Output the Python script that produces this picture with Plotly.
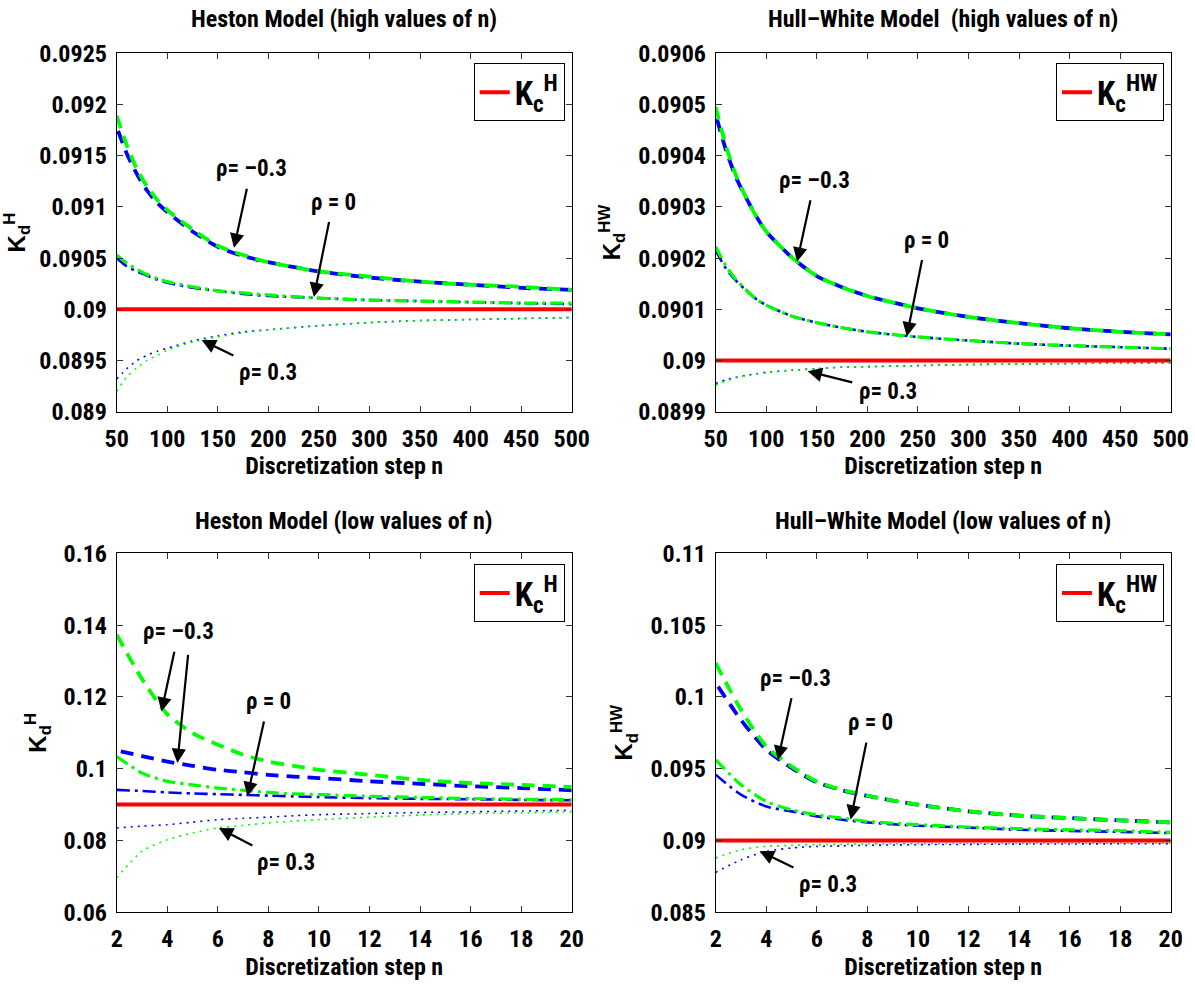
import plotly.graph_objects as go

NARROW = "Liberation Sans Narrow, Roboto Condensed, DejaVu Sans Condensed, Arial Narrow, sans-serif"
WIDE = "Liberation Sans, Arial, Helvetica, sans-serif"

# ---------------- data ----------------
K_c = 0.09

n_high = [50, 60, 70, 80, 90, 100, 125, 150, 175, 200, 250, 300, 350, 400, 450, 500]
n_low = [2, 3, 4, 5, 6, 7, 8, 9, 10, 12, 14, 16, 18, 20]

# Heston, high n
h_hi_m03_blue = [0.09178, 0.09152, 0.09132, 0.09116, 0.09104, 0.09095, 0.09076, 0.09061, 0.09052, 0.09046, 0.09037, 0.09031, 0.09027, 0.09024, 0.09021, 0.09019]
h_hi_m03_green = [0.09189, 0.09160, 0.09137, 0.09120, 0.09107, 0.09097, 0.09078, 0.09062, 0.09053, 0.09046, 0.09037, 0.09032, 0.09027, 0.09024, 0.09022, 0.09019]
h_hi_0_blue = [0.09050, 0.09042, 0.09037, 0.09033, 0.09029, 0.09026, 0.09021, 0.09018, 0.09015, 0.09013, 0.09011, 0.09009, 0.09008, 0.09007, 0.09006, 0.09005]
h_hi_0_green = [0.09053, 0.09045, 0.09039, 0.09034, 0.09030, 0.09027, 0.09022, 0.09018, 0.09016, 0.09014, 0.09011, 0.09009, 0.09008, 0.09007, 0.09006, 0.09006]
h_hi_p03_blue = [0.08932, 0.08942, 0.08950, 0.08955, 0.08959, 0.08962, 0.08969, 0.08974, 0.08978, 0.08980, 0.08984, 0.08987, 0.08989, 0.08990, 0.08991, 0.08992]
h_hi_p03_green = [0.08920, 0.08934, 0.08943, 0.08950, 0.08955, 0.08960, 0.08968, 0.08973, 0.08977, 0.08980, 0.08984, 0.08987, 0.08989, 0.08990, 0.08991, 0.08992]

# Hull-White, high n
hw_hi_m03_blue = [0.090480, 0.090412, 0.090358, 0.090318, 0.090282, 0.090252, 0.090202, 0.090165, 0.090143, 0.090126, 0.090102, 0.090085, 0.090073, 0.090063, 0.090056, 0.090051]
hw_hi_m03_green = [0.090495, 0.090420, 0.090362, 0.090318, 0.090282, 0.090252, 0.090202, 0.090165, 0.090143, 0.090126, 0.090102, 0.090085, 0.090073, 0.090063, 0.090056, 0.090051]
hw_hi_0_blue = [0.090215, 0.090180, 0.090156, 0.090137, 0.090120, 0.090108, 0.090087, 0.090074, 0.090064, 0.090056, 0.090046, 0.090039, 0.090033, 0.090029, 0.090026, 0.090023]
hw_hi_0_green = [0.090222, 0.090185, 0.090158, 0.090138, 0.090120, 0.090108, 0.090087, 0.090074, 0.090064, 0.090056, 0.090046, 0.090039, 0.090033, 0.090029, 0.090026, 0.090023]
hw_hi_p03_blue = [0.089955, 0.089962, 0.089967, 0.089971, 0.089974, 0.089977, 0.089981, 0.089984, 0.089987, 0.089988, 0.089990, 0.089992, 0.089993, 0.089994, 0.089995, 0.089995]
hw_hi_p03_green = [0.089952, 0.089960, 0.089966, 0.089970, 0.089973, 0.089976, 0.089981, 0.089984, 0.089987, 0.089988, 0.089990, 0.089992, 0.089993, 0.089994, 0.089995, 0.089995]

# Heston, low n
h_lo_m03_blue = [0.1051, 0.1035, 0.1020, 0.1008, 0.0997, 0.0990, 0.0983, 0.0978, 0.0974, 0.0965, 0.0958, 0.0951, 0.0946, 0.0940]
h_lo_m03_green = [0.1373, 0.1250, 0.1152, 0.1099, 0.1067, 0.1039, 0.1020, 0.1008, 0.0997, 0.0983, 0.0969, 0.0960, 0.0955, 0.0949]
h_lo_0_blue = [0.0941, 0.0938, 0.0934, 0.0931, 0.0929, 0.0927, 0.0925, 0.0923, 0.0921, 0.0918, 0.0916, 0.0915, 0.0913, 0.0912]
h_lo_0_green = [0.1034, 0.0988, 0.0965, 0.0955, 0.0946, 0.0940, 0.0934, 0.0930, 0.0928, 0.0923, 0.0920, 0.0917, 0.0915, 0.0914]
h_lo_p03_blue = [0.0835, 0.0840, 0.0844, 0.0851, 0.0858, 0.0862, 0.0865, 0.0869, 0.0872, 0.0875, 0.0878, 0.0880, 0.0882, 0.0884]
h_lo_p03_green = [0.0696, 0.0770, 0.0802, 0.0821, 0.0835, 0.0842, 0.0849, 0.0854, 0.0858, 0.0865, 0.0871, 0.0875, 0.0877, 0.0880]

# Hull-White, low n
hw_lo_m03_blue = [0.10096, 0.09840, 0.09632, 0.09505, 0.09405, 0.09350, 0.09310, 0.09278, 0.09249, 0.09203, 0.09173, 0.09156, 0.09140, 0.09126]
hw_lo_m03_green = [0.10235, 0.09910, 0.09655, 0.09516, 0.09411, 0.09353, 0.09312, 0.09278, 0.09249, 0.09203, 0.09173, 0.09156, 0.09140, 0.09126]
hw_lo_0_blue = [0.09458, 0.09319, 0.09237, 0.09203, 0.09168, 0.09145, 0.09126, 0.09113, 0.09103, 0.09090, 0.09075, 0.09067, 0.09060, 0.09052]
hw_lo_0_green = [0.09562, 0.09388, 0.09272, 0.09214, 0.09179, 0.09156, 0.09133, 0.09120, 0.09110, 0.09094, 0.09082, 0.09075, 0.09068, 0.09057]
hw_lo_p03_blue = [0.08778, 0.08866, 0.08924, 0.08948, 0.08959, 0.08963, 0.08966, 0.08969, 0.08971, 0.08973, 0.08975, 0.08976, 0.08977, 0.08978]
hw_lo_p03_green = [0.08878, 0.08936, 0.08959, 0.08966, 0.08971, 0.08974, 0.08976, 0.08977, 0.08978, 0.08979, 0.08980, 0.08981, 0.08982, 0.08982]

# ticks
x_ticks_high = [50, 100, 150, 200, 250, 300, 350, 400, 450, 500]
x_ticks_low = [2, 4, 6, 8, 10, 12, 14, 16, 18, 20]
y_ticks_tl = [0.089, 0.0895, 0.09, 0.0905, 0.091, 0.0915, 0.092, 0.0925]
y_text_tl = ["0.089", "0.0895", "0.09", "0.0905", "0.091", "0.0915", "0.092", "0.0925"]
y_ticks_tr = [0.0899, 0.09, 0.0901, 0.0902, 0.0903, 0.0904, 0.0905, 0.0906]
y_text_tr = ["0.0899", "0.09", "0.0901", "0.0902", "0.0903", "0.0904", "0.0905", "0.0906"]
y_ticks_bl = [0.06, 0.08, 0.1, 0.12, 0.14, 0.16]
y_text_bl = ["0.06", "0.08", "0.1", "0.12", "0.14", "0.16"]
y_ticks_br = [0.085, 0.09, 0.095, 0.1, 0.105, 0.11]
y_text_br = ["0.085", "0.09", "0.095", "0.1", "0.105", "0.11"]

titles = ["Heston Model (high values of n)", "Hull–White Model  (high values of n)",
          "Heston Model (low values of n)", "Hull–White Model (low values of n)"]
ylabels = ["K<sub>d</sub><sup>H</sup>", "K<sub>d</sub><sup>HW</sup>",
           "K<sub>d</sub><sup>H</sup>", "K<sub>d</sub><sup>HW</sup>"]
legend_names = ["K<sub>c</sub><sup>H</sup>", "K<sub>c</sub><sup>HW</sup>",
                "K<sub>c</sub><sup>H</sup>", "K<sub>c</sub><sup>HW</sup>"]
xlabel = "Discretization step n"

# callouts: (text, text_x, text_y, arrow_head_x, arrow_head_y)
callouts = [
    [("ρ= –0.3", 183, 0.091372, 166, 0.0906), ("ρ = 0", 264, 0.091047, 245, 0.09012),
     ("ρ= 0.3", 200, 0.08938, 134, 0.0897)],
    [("ρ= –0.3", 148, 0.090352, 130.5, 0.090193), ("ρ = 0", 258, 0.090235, 239, 0.090047),
     ("ρ= 0.3", 220, 0.08994, 141, 0.089979)],
    [("ρ= –0.3", 4.45, 0.1381, 3.77, 0.1159), ("ρ = 0", 8.0, 0.1187, 7.17, 0.0923),
     ("ρ= 0.3", 8.68, 0.0738, 6.04, 0.0835)],
    [("ρ= –0.3", 5.17, 0.1013, 4.46, 0.0956), ("ρ = 0", 8.12, 0.0982, 7.34, 0.09146),
     ("ρ= 0.3", 6.46, 0.08694, 3.74, 0.08926)],
]
# extra arrow without its own label (tail_x, tail_y, head_x, head_y)
extra_arrows = [[], [], [(4.83, 0.1321, 4.40, 0.1016)], []]

panels = [
    dict(n=n_high, series=[h_hi_m03_blue, h_hi_m03_green, h_hi_0_blue, h_hi_0_green, h_hi_p03_blue, h_hi_p03_green],
         xr=[50, 500], yr=[0.089, 0.0925], xt=x_ticks_high, yt=y_ticks_tl, ytt=y_text_tl),
    dict(n=n_high, series=[hw_hi_m03_blue, hw_hi_m03_green, hw_hi_0_blue, hw_hi_0_green, hw_hi_p03_blue, hw_hi_p03_green],
         xr=[50, 500], yr=[0.0899, 0.0906], xt=x_ticks_high, yt=y_ticks_tr, ytt=y_text_tr),
    dict(n=n_low, series=[h_lo_m03_blue, h_lo_m03_green, h_lo_0_blue, h_lo_0_green, h_lo_p03_blue, h_lo_p03_green],
         xr=[2, 20], yr=[0.06, 0.16], xt=x_ticks_low, yt=y_ticks_bl, ytt=y_text_bl),
    dict(n=n_low, series=[hw_lo_m03_blue, hw_lo_m03_green, hw_lo_0_blue, hw_lo_0_green, hw_lo_p03_blue, hw_lo_p03_green],
         xr=[2, 20], yr=[0.085, 0.11], xt=x_ticks_low, yt=y_ticks_br, ytt=y_text_br),
]

# ---------------- styles ----------------
W, H = 1195, 987
BLUE, GREEN, RED = "#0000ff", "#00ff00", "#ff0000"
styles = [
    dict(color=BLUE, dash="0px,4px,13px,4px", width=3.8),
    dict(color=GREEN, dash="13px,8px", width=3.8),
    dict(color=BLUE, dash="13px,5px,3px,5px", width=2.6),
    dict(color=GREEN, dash="13px,5px,3px,5px", width=3.2),
    dict(color=BLUE, dash="2px,5px", width=1.6),
    dict(color=GREEN, dash="2px,5px", width=1.6),
]

# pixel boxes of the four plot areas (left, right, top, bottom)
boxes = [(116.7, 571.7, 53.3, 411.7), (715.7, 1170.7, 53.3, 411.7),
         (116.7, 571.7, 553.3, 912.3), (715.7, 1170.7, 553.3, 912.3)]
title_y = [19.5, 19.5, 520.7, 520.7]
legend_right = [564.7, 1164.0, 564.7, 1164.0]
legend_top = [63.3, 63.3, 564.0, 564.0]

TXT = dict(family=NARROW, size=24, color="black", weight="bold")

fig = go.Figure()
annotations = []
layout = {}

for i, p in enumerate(panels):
    k = "" if i == 0 else str(i + 1)
    xa, ya = "x" + k, "y" + k
    leg = "legend" + k
    for s, st in zip(p["series"], styles):
        fig.add_trace(go.Scatter(x=p["n"], y=s, mode="lines", xaxis=xa, yaxis=ya,
                                 line=dict(color=st["color"], dash=st["dash"], width=st["width"],
                                           shape="spline", smoothing=0.7),
                                 showlegend=False, hoverinfo="skip"))
    fig.add_trace(go.Scatter(x=p["n"], y=[K_c] * len(p["n"]), mode="lines", xaxis=xa, yaxis=ya,
                             line=dict(color=RED, width=4), name=legend_names[i],
                             legend=leg, showlegend=True))

    l, r, t, b = boxes[i]
    axcommon = dict(showline=True, linecolor="black", linewidth=1, mirror="ticks",
                    ticks="inside", ticklen=6, tickwidth=1, tickcolor="#333333",
                    showgrid=False, zeroline=False, automargin=False,
                    tickfont=dict(family=NARROW, size=24, color="black", weight="bold"))
    layout["xaxis" + k] = dict(axcommon, domain=[l / W, r / W], range=p["xr"], anchor=ya,
                               tickvals=p["xt"], ticktext=[str(v) for v in p["xt"]],
                               ticklabelstandoff=5,
                               title=dict(text=xlabel, standoff=2,
                                          font=dict(family=NARROW, size=24, color="black", weight="bold")))
    layout["yaxis" + k] = dict(axcommon, domain=[1 - b / H, 1 - t / H], range=p["yr"], anchor=xa,
                               tickvals=p["yt"], ticktext=p["ytt"], ticklabelstandoff=4,
                               title=dict(text=ylabels[i], standoff=10,
                                          font=dict(family=WIDE, size=24, color="black", weight="bold")))
    layout[leg] = dict(x=legend_right[i] / W, y=1 - legend_top[i] / H, xanchor="right", yanchor="top",
                       bgcolor="white", bordercolor="black", borderwidth=1,
                       font=dict(family=NARROW, size=33, color="black", weight="bold"),
                       itemwidth=30)

    annotations.append(dict(text=titles[i], xref="paper", yref="paper",
                            x=(l + r) / 2 / W, y=1 - title_y[i] / H, showarrow=False,
                            xanchor="center", yanchor="middle", font=TXT))
    for (txt, tx, ty, hx, hy) in callouts[i]:
        annotations.append(dict(text=txt, xref=xa, yref=ya, x=hx, y=hy, ax=tx, ay=ty,
                                axref=xa, ayref=ya, showarrow=True, arrowhead=2,
                                arrowsize=1.3, arrowwidth=2.2, arrowcolor="black",
                                standoff=0, startstandoff=5,
                                font=dict(family=NARROW, size=23, color="black", weight="bold")))
    for (sx, sy, hx, hy) in extra_arrows[i]:
        annotations.append(dict(text="", xref=xa, yref=ya, x=hx, y=hy, ax=sx, ay=sy,
                                axref=xa, ayref=ya, showarrow=True, arrowhead=2,
                                arrowsize=1.3, arrowwidth=2.2, arrowcolor="black", standoff=0))

fig.update_layout(width=W, height=H, margin=dict(l=0, r=0, t=0, b=0, autoexpand=False),
                  paper_bgcolor="white", plot_bgcolor="white",
                  annotations=annotations, **layout)

fig.write_html("out.html", config={"displayModeBar": False},
               post_script="document.body.style.margin='0px';document.body.style.overflow='hidden';")
